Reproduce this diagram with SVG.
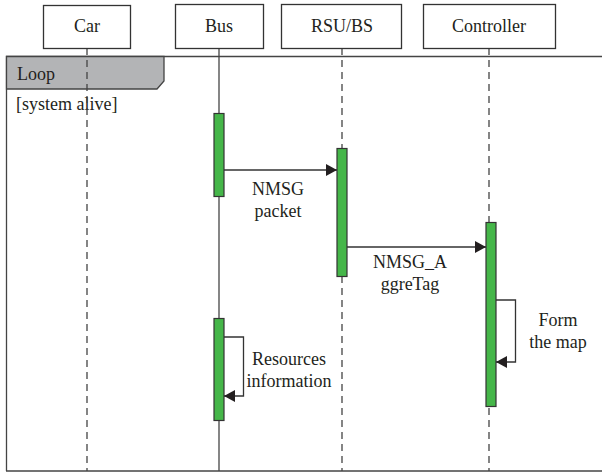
<svg xmlns="http://www.w3.org/2000/svg" width="602" height="472" viewBox="0 0 602 472">
<defs>
<style>
.box{fill:#fff;stroke:#333;stroke-width:1.3}
.t{font-family:"Liberation Serif","Times New Roman","DejaVu Serif",serif;font-size:18px;fill:#231f20}
.c{text-anchor:middle}
.life{stroke:#444;stroke-width:1.3;fill:none}
.dash{stroke-dasharray:7,5}
.bar{fill:#45b649;stroke:#333;stroke-width:1.2}
.msg{stroke:#333;stroke-width:1.3;fill:none}
</style>
<marker id="ah" markerWidth="12" markerHeight="12" refX="11" refY="6" orient="auto" markerUnits="userSpaceOnUse">
<path d="M0,0 L11,6 L0,12 Z" fill="#231f20"/>
</marker>
</defs>
<rect width="602" height="472" fill="#fff"/>
<g id="frame">
<path d="M6.5,471 V56.5 H602" class="life"/>
<line x1="6" y1="471" x2="602" y2="471" class="life"/>
<path d="M6.5,56.5 H164 V81 L157,89 H6.5 Z" fill="#b3b4b6" stroke="#444" stroke-width="1.3"/>
<text x="17" y="80" class="t">Loop</text>
<text x="16" y="110" class="t">[system alive]</text>
</g>
<g id="lifelines">
<line x1="87" y1="48" x2="87" y2="471" class="life dash"/>
<line x1="219" y1="48" x2="219" y2="471" class="life"/>
<line x1="342" y1="48" x2="342" y2="471" class="life dash"/>
<line x1="489" y1="48" x2="489" y2="471" class="life dash"/>
</g>
<g id="car"><rect x="43.5" y="5.5" width="87" height="43" class="box"/><text x="87" y="32" class="t c">Car</text></g>
<g id="bus"><rect x="175.5" y="4.5" width="88" height="44" class="box"/><text x="219" y="32" class="t c">Bus</text></g>
<g id="rsu"><rect x="281.5" y="4.5" width="120" height="44" class="box"/><text x="342" y="32" class="t c">RSU/BS</text></g>
<g id="controller"><rect x="423.5" y="4.5" width="132" height="44" class="box"/><text x="489" y="32" class="t c">Controller</text></g>
<g id="activations">
<rect x="214" y="113.5" width="10" height="83" class="bar"/>
<rect x="337" y="148.5" width="10" height="128" class="bar"/>
<rect x="486" y="222.5" width="10" height="184" class="bar"/>
<rect x="214" y="318.5" width="10" height="102" class="bar"/>
</g>
<g id="connectors">
<line x1="224" y1="170" x2="337" y2="170" class="msg" marker-end="url(#ah)"/>
<line x1="347" y1="247" x2="486" y2="247" class="msg" marker-end="url(#ah)"/>
<path d="M224,337 H243.5 V396 H224" class="msg" marker-end="url(#ah)"/>
<path d="M496,300 H515.5 V362 H496" class="msg" marker-end="url(#ah)"/>
</g>
<g id="labels">
<text x="278" y="195" class="t c">NMSG</text>
<text x="278" y="217" class="t c">packet</text>
<text x="410" y="268" class="t c">NMSG_A</text>
<text x="410" y="290" class="t c">ggreTag</text>
<text x="289" y="365" class="t c">Resources</text>
<text x="289" y="387" class="t c">information</text>
<text x="558" y="326" class="t c">Form</text>
<text x="558" y="348" class="t c">the map</text>
</g>
</svg>
